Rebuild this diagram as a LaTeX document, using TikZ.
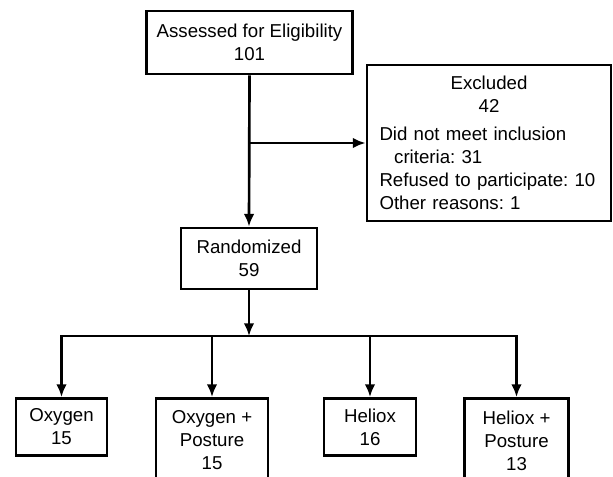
\documentclass[tikz,border=0pt]{standalone}
\usepackage{fontspec}
\setmainfont{Liberation Sans}
\usetikzlibrary{positioning}
\usetikzlibrary{arrows.meta}
\tikzset{>={Latex[width=8pt,length=9.5pt]}}
\frenchspacing
\newdimen\pxu
\pxu=0.75pt

\begin{document}
\begin{tikzpicture}[x=0.75pt, y=-0.75pt, line width=2pt, font=\fontsize{14}{17.25}\selectfont, box/.style={rectangle, draw=black, line width=2.2pt, inner sep=0pt, align=center}]

    \useasboundingbox (0,0) rectangle (613,476);

    %Nodes
    \node[box, minimum width=206\pxu, minimum height=63\pxu](assessed) at (249.5,42.5){Assessed for Eligibility\\101};
    \node[box, minimum width=244\pxu, minimum height=156\pxu, text width=219\pxu, align=left](excluded) at (489,143){%
        \centering Excluded\\ 42\\[4pt]
        \raggedright Did not meet inclusion\\
        \hspace*{11pt}criteria: 31\\
        Refused to participate: 10\\
        Other reasons: 1};
    \node[box, minimum width=136\pxu, minimum height=61\pxu](randomized) at (249,258.5){Randomized\\59};
    \coordinate (split) at (249,336);
    \node[box, minimum width=91\pxu, minimum height=57\pxu, anchor=north](oxygen) at (61.5,397){Oxygen\\15};
    \node[box, minimum width=112\pxu, minimum height=84\pxu, anchor=north](oxyposture) at (212,397){Oxygen +\\Posture\\15};
    \node[box, minimum width=92\pxu, minimum height=57\pxu, anchor=north](heliox) at (370,397){Heliox\\16};
    \node[box, minimum width=104\pxu, minimum height=84\pxu, anchor=north](helposture) at (516.5,397){Heliox +\\Posture\\13};

    %Lines
    \draw[->] (assessed.south) -- (randomized.north);
    \draw[->] (assessed.south |- excluded.west) -- (excluded.west);
    \draw[->] (randomized.south) -- (split);
    \draw[->] (split) -| (oxygen.north);
    \draw[->] (split) -| (oxyposture.north);
    \draw[->] (split) -| (heliox.north);
    \draw[->] (split) -| (helposture.north);

\end{tikzpicture}
\end{document}
